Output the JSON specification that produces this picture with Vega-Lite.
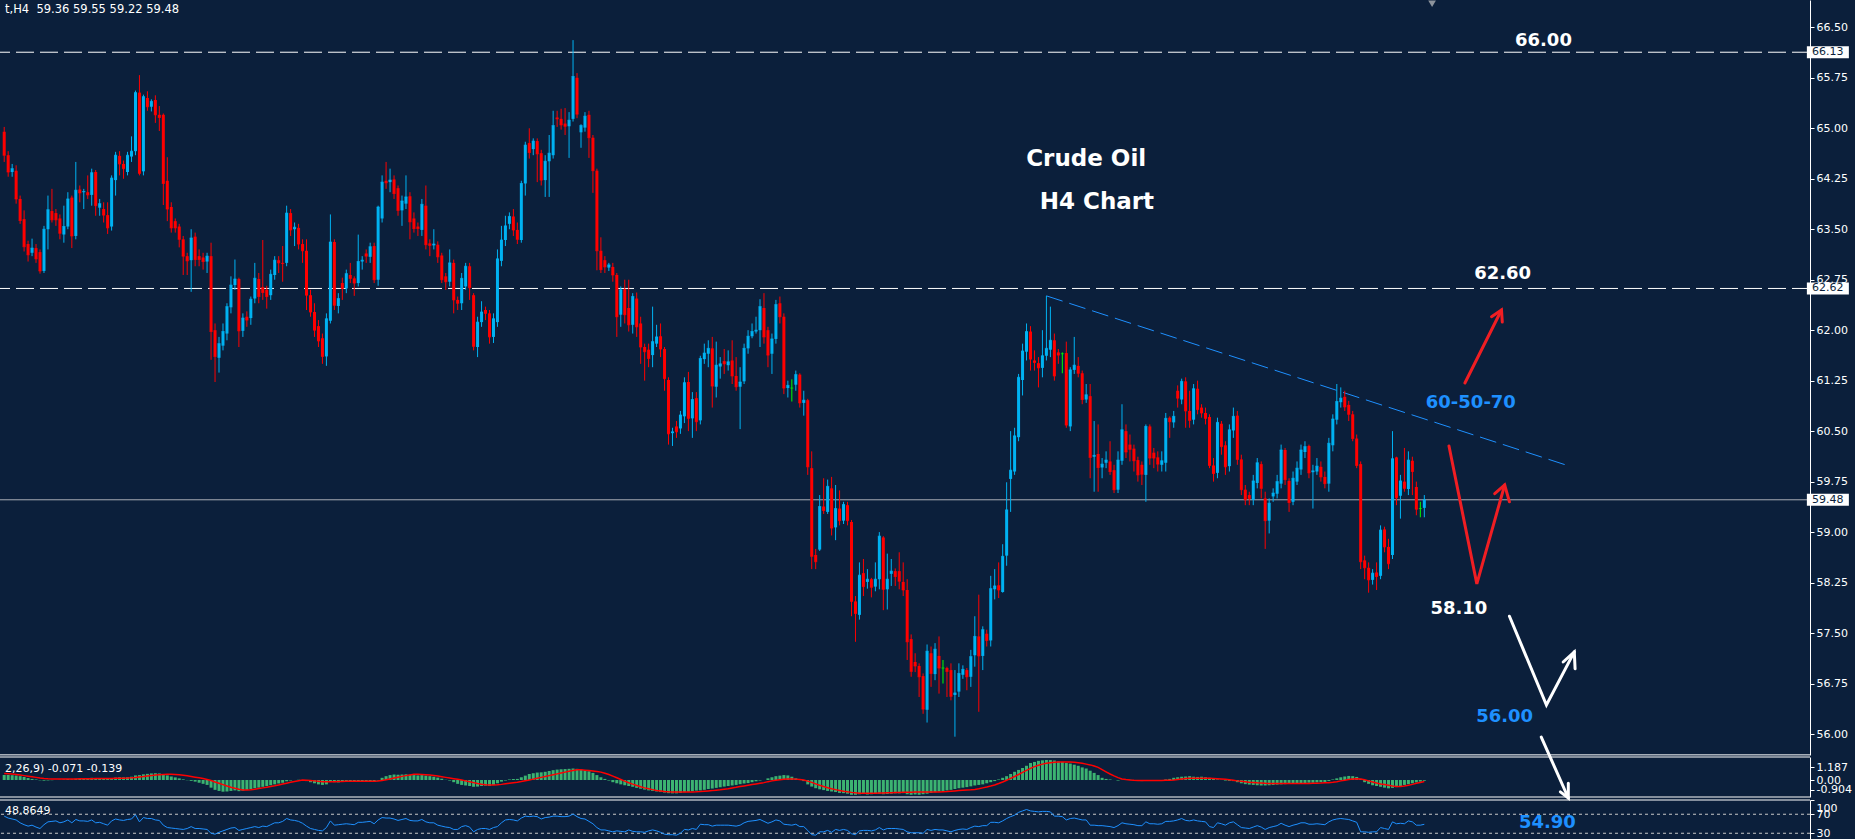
{
"$schema":"https://vega.github.io/schema/vega-lite/v6.json",
"width":1810,"height":839,
"autosize":{"type":"none"},
"padding":{"left":0,"top":0,"right":45,"bottom":0},
"background":"#0b1f3b",
"config":{"view":{"stroke":null},"axis":{"domainColor":"#ffffff","tickColor":"#ffffff","labelColor":"#ffffff","labelFont":"DejaVu Sans","labelFontSize":11,"tickSize":4,"grid":false,"labelPadding":2,"labelOverlap":false,"labelFlush":false,"labelBound":false}},
"datasets":{
"k":[
{"i":0,"o":64.95,"h":65.02,"l":64.5,"c":64.6,"m":0.45,"s":0.6,"r":66},
{"i":1,"o":64.6,"h":64.66,"l":64.28,"c":64.35,"m":0.46,"s":0.58,"r":62},
{"i":2,"o":64.35,"h":64.47,"l":64.28,"c":64.4,"m":0.44,"s":0.55,"r":60},
{"i":3,"o":64.37,"h":64.45,"l":63.88,"c":63.95,"m":0.4,"s":0.5,"r":58},
{"i":4,"o":63.95,"h":64.0,"l":63.58,"c":63.63,"m":0.35,"s":0.45,"r":52},
{"i":5,"o":63.65,"h":63.78,"l":63.17,"c":63.24,"m":0.28,"s":0.4,"r":48},
{"i":6,"o":63.28,"h":63.33,"l":63.02,"c":63.12,"m":0.18,"s":0.35,"r":45},
{"i":7,"o":63.15,"h":63.36,"l":63.1,"c":63.22,"m":0.1,"s":0.3,"r":47},
{"i":8,"o":63.22,"h":63.28,"l":63.0,"c":63.06,"m":0.05,"s":0.24,"r":43},
{"i":9,"o":63.16,"h":63.2,"l":62.84,"c":62.88,"m":-0.03,"s":0.18,"r":40},
{"i":10,"o":62.88,"h":63.55,"l":62.85,"c":63.5,"m":-0.06,"s":0.14,"r":48},
{"i":11,"o":63.5,"h":64.0,"l":63.2,"c":63.79,"m":-0.04,"s":0.11,"r":54},
{"i":12,"o":63.77,"h":64.1,"l":63.6,"c":63.64,"m":-0.02,"s":0.1,"r":55},
{"i":13,"o":63.74,"h":63.8,"l":63.55,"c":63.64,"m":0.0,"s":0.09,"r":56},
{"i":14,"o":63.66,"h":63.72,"l":63.35,"c":63.44,"m":0.02,"s":0.09,"r":52},
{"i":15,"o":63.42,"h":63.85,"l":63.3,"c":63.54,"m":0.05,"s":0.09,"r":54},
{"i":16,"o":63.54,"h":64.05,"l":63.5,"c":63.95,"m":0.08,"s":0.1,"r":58},
{"i":17,"o":63.97,"h":64.0,"l":63.22,"c":63.4,"m":0.06,"s":0.1,"r":52},
{"i":18,"o":63.4,"h":64.5,"l":63.35,"c":64.08,"m":0.12,"s":0.1,"r":59},
{"i":19,"o":64.09,"h":64.15,"l":63.9,"c":64.04,"m":0.15,"s":0.11,"r":56},
{"i":20,"o":64.05,"h":64.1,"l":63.8,"c":64.06,"m":0.17,"s":0.11,"r":56},
{"i":21,"o":64.05,"h":64.3,"l":63.95,"c":64.01,"m":0.18,"s":0.12,"r":55},
{"i":22,"o":64.01,"h":64.4,"l":63.85,"c":64.34,"m":0.2,"s":0.12,"r":58},
{"i":23,"o":64.35,"h":64.38,"l":63.7,"c":63.85,"m":0.17,"s":0.13,"r":52},
{"i":24,"o":63.82,"h":63.95,"l":63.7,"c":63.88,"m":0.15,"s":0.13,"r":53},
{"i":25,"o":63.8,"h":63.9,"l":63.6,"c":63.71,"m":0.12,"s":0.14,"r":50},
{"i":26,"o":63.71,"h":63.9,"l":63.43,"c":63.52,"m":0.1,"s":0.14,"r":47},
{"i":27,"o":63.54,"h":64.3,"l":63.48,"c":64.26,"m":0.15,"s":0.14,"r":56},
{"i":28,"o":64.23,"h":64.65,"l":64.0,"c":64.6,"m":0.22,"s":0.15,"r":60},
{"i":29,"o":64.59,"h":64.66,"l":64.3,"c":64.47,"m":0.25,"s":0.16,"r":58},
{"i":30,"o":64.47,"h":64.52,"l":64.25,"c":64.4,"m":0.24,"s":0.17,"r":57},
{"i":31,"o":64.35,"h":64.65,"l":64.3,"c":64.6,"m":0.26,"s":0.18,"r":59},
{"i":32,"o":64.58,"h":64.88,"l":64.5,"c":64.66,"m":0.3,"s":0.2,"r":60},
{"i":33,"o":64.66,"h":65.56,"l":64.6,"c":65.53,"m":0.42,"s":0.23,"r":69},
{"i":34,"o":65.53,"h":65.79,"l":64.3,"c":64.33,"m":0.45,"s":0.27,"r":54},
{"i":35,"o":64.36,"h":65.5,"l":64.3,"c":65.47,"m":0.52,"s":0.31,"r":63},
{"i":36,"o":65.45,"h":65.55,"l":65.26,"c":65.32,"m":0.56,"s":0.36,"r":61},
{"i":37,"o":65.32,"h":65.43,"l":65.25,"c":65.4,"m":0.6,"s":0.4,"r":61},
{"i":38,"o":65.42,"h":65.49,"l":65.08,"c":65.2,"m":0.62,"s":0.45,"r":58},
{"i":39,"o":65.2,"h":65.33,"l":64.96,"c":65.16,"m":0.6,"s":0.49,"r":57},
{"i":40,"o":65.2,"h":65.22,"l":63.86,"c":64.18,"m":0.52,"s":0.51,"r":47},
{"i":41,"o":64.22,"h":64.57,"l":63.62,"c":63.8,"m":0.42,"s":0.52,"r":42},
{"i":42,"o":63.83,"h":63.9,"l":63.45,"c":63.52,"m":0.32,"s":0.52,"r":41},
{"i":43,"o":63.62,"h":63.66,"l":63.45,"c":63.52,"m":0.24,"s":0.5,"r":40},
{"i":44,"o":63.54,"h":63.58,"l":63.23,"c":63.35,"m":0.15,"s":0.47,"r":39},
{"i":45,"o":63.35,"h":63.4,"l":62.82,"c":63.1,"m":0.06,"s":0.43,"r":38},
{"i":46,"o":63.1,"h":63.15,"l":62.82,"c":63.03,"m":-0.02,"s":0.38,"r":40},
{"i":47,"o":63.04,"h":63.5,"l":62.57,"c":63.37,"m":-0.08,"s":0.32,"r":44},
{"i":48,"o":63.39,"h":63.45,"l":62.95,"c":63.05,"m":-0.15,"s":0.26,"r":40},
{"i":49,"o":63.1,"h":63.2,"l":62.95,"c":63.05,"m":-0.25,"s":0.2,"r":40},
{"i":50,"o":63.08,"h":63.15,"l":62.9,"c":63.02,"m":-0.35,"s":0.13,"r":39},
{"i":51,"o":63.02,"h":63.15,"l":62.85,"c":63.1,"m":-0.45,"s":0.05,"r":38},
{"i":52,"o":63.1,"h":63.3,"l":61.56,"c":61.98,"m":-0.7,"s":-0.05,"r":30},
{"i":53,"o":62.0,"h":62.1,"l":61.23,"c":61.61,"m":-0.9,"s":-0.18,"r":28},
{"i":54,"o":61.59,"h":61.9,"l":61.37,"c":61.8,"m":-1.0,"s":-0.3,"r":32},
{"i":55,"o":61.77,"h":62.1,"l":61.7,"c":61.98,"m":-1.07,"s":-0.42,"r":35},
{"i":56,"o":61.95,"h":62.4,"l":61.85,"c":62.35,"m":-1.05,"s":-0.55,"r":38},
{"i":57,"o":62.34,"h":62.8,"l":62.25,"c":62.67,"m":-1.0,"s":-0.66,"r":41},
{"i":58,"o":62.67,"h":63.05,"l":62.6,"c":62.76,"m":-0.95,"s":-0.76,"r":42},
{"i":59,"o":62.76,"h":62.78,"l":61.75,"c":61.99,"m":-1.02,"s":-0.85,"r":36},
{"i":60,"o":61.99,"h":62.25,"l":61.9,"c":62.18,"m":-0.98,"s":-0.91,"r":38},
{"i":61,"o":62.2,"h":62.28,"l":62.05,"c":62.15,"m":-0.9,"s":-0.91,"r":40},
{"i":62,"o":62.18,"h":62.5,"l":62.08,"c":62.46,"m":-0.82,"s":-0.88,"r":42},
{"i":63,"o":62.47,"h":63.0,"l":62.4,"c":62.77,"m":-0.75,"s":-0.84,"r":44},
{"i":64,"o":62.76,"h":62.85,"l":62.4,"c":62.5,"m":-0.7,"s":-0.78,"r":42},
{"i":65,"o":62.64,"h":63.34,"l":62.45,"c":62.56,"m":-0.62,"s":-0.72,"r":45},
{"i":66,"o":62.6,"h":62.66,"l":62.32,"c":62.5,"m":-0.55,"s":-0.66,"r":44},
{"i":67,"o":62.52,"h":62.9,"l":62.45,"c":62.83,"m":-0.48,"s":-0.6,"r":48},
{"i":68,"o":62.82,"h":63.1,"l":62.75,"c":63.04,"m":-0.4,"s":-0.53,"r":52},
{"i":69,"o":63.04,"h":63.1,"l":62.85,"c":63.0,"m":-0.32,"s":-0.45,"r":52},
{"i":70,"o":63.0,"h":63.25,"l":62.72,"c":62.99,"m":-0.25,"s":-0.37,"r":55},
{"i":71,"o":63.0,"h":63.85,"l":62.95,"c":63.74,"m":-0.12,"s":-0.29,"r":61},
{"i":72,"o":63.74,"h":63.8,"l":63.4,"c":63.49,"m":-0.05,"s":-0.21,"r":58},
{"i":73,"o":63.5,"h":63.6,"l":63.25,"c":63.53,"m":0.0,"s":-0.14,"r":57},
{"i":74,"o":63.52,"h":63.58,"l":63.2,"c":63.28,"m":0.02,"s":-0.07,"r":55},
{"i":75,"o":63.28,"h":63.35,"l":63.0,"c":63.18,"m":-0.02,"s":0.0,"r":51},
{"i":76,"o":63.18,"h":63.35,"l":62.3,"c":62.52,"m":-0.1,"s":-0.02,"r":45},
{"i":77,"o":62.52,"h":62.6,"l":62.2,"c":62.27,"m":-0.2,"s":-0.05,"r":40},
{"i":78,"o":62.27,"h":62.4,"l":61.9,"c":62.0,"m":-0.3,"s":-0.08,"r":38},
{"i":79,"o":62.06,"h":62.15,"l":61.75,"c":61.84,"m":-0.4,"s":-0.12,"r":36},
{"i":80,"o":61.88,"h":61.95,"l":61.5,"c":61.61,"m":-0.45,"s":-0.15,"r":35},
{"i":81,"o":61.61,"h":62.25,"l":61.47,"c":62.17,"m":-0.4,"s":-0.16,"r":42},
{"i":82,"o":62.14,"h":63.72,"l":62.1,"c":63.31,"m":-0.15,"s":-0.16,"r":56},
{"i":83,"o":63.31,"h":63.35,"l":62.3,"c":62.37,"m":-0.2,"s":-0.15,"r":47},
{"i":84,"o":62.36,"h":62.55,"l":62.25,"c":62.47,"m":-0.22,"s":-0.14,"r":48},
{"i":85,"o":62.7,"h":62.78,"l":62.45,"c":62.62,"m":-0.18,"s":-0.13,"r":49},
{"i":86,"o":62.62,"h":62.9,"l":62.55,"c":62.84,"m":-0.15,"s":-0.12,"r":50},
{"i":87,"o":62.82,"h":63.0,"l":62.7,"c":62.77,"m":-0.16,"s":-0.12,"r":49},
{"i":88,"o":62.77,"h":62.8,"l":62.51,"c":62.7,"m":-0.18,"s":-0.12,"r":48},
{"i":89,"o":62.7,"h":63.42,"l":62.65,"c":63.02,"m":-0.14,"s":-0.12,"r":53},
{"i":90,"o":63.02,"h":63.1,"l":62.9,"c":63.04,"m":-0.12,"s":-0.12,"r":53},
{"i":91,"o":63.14,"h":63.2,"l":63.0,"c":63.1,"m":-0.15,"s":-0.12,"r":54},
{"i":92,"o":63.09,"h":63.3,"l":63.0,"c":63.24,"m":-0.14,"s":-0.12,"r":55},
{"i":93,"o":63.25,"h":63.3,"l":62.7,"c":62.75,"m":-0.18,"s":-0.12,"r":50},
{"i":94,"o":62.75,"h":63.85,"l":62.66,"c":63.83,"m":-0.05,"s":-0.1,"r":58},
{"i":95,"o":63.66,"h":64.3,"l":63.6,"c":64.2,"m":0.2,"s":-0.05,"r":63},
{"i":96,"o":64.22,"h":64.5,"l":64.1,"c":64.19,"m":0.35,"s":0.02,"r":62},
{"i":97,"o":64.2,"h":64.4,"l":64.05,"c":64.23,"m":0.45,"s":0.1,"r":62},
{"i":98,"o":64.24,"h":64.3,"l":63.95,"c":64.03,"m":0.5,"s":0.18,"r":60},
{"i":99,"o":64.11,"h":64.15,"l":63.7,"c":63.78,"m":0.48,"s":0.26,"r":57},
{"i":100,"o":63.78,"h":64.0,"l":63.55,"c":63.92,"m":0.5,"s":0.33,"r":59},
{"i":101,"o":63.88,"h":64.3,"l":63.8,"c":63.98,"m":0.52,"s":0.4,"r":61},
{"i":102,"o":63.99,"h":64.05,"l":63.35,"c":63.61,"m":0.48,"s":0.46,"r":57},
{"i":103,"o":63.66,"h":63.75,"l":63.45,"c":63.51,"m":0.45,"s":0.52,"r":56},
{"i":104,"o":63.54,"h":63.6,"l":63.4,"c":63.51,"m":0.42,"s":0.52,"r":56},
{"i":105,"o":63.49,"h":63.95,"l":63.4,"c":63.87,"m":0.45,"s":0.51,"r":59},
{"i":106,"o":63.85,"h":64.15,"l":63.2,"c":63.27,"m":0.4,"s":0.48,"r":54},
{"i":107,"o":63.29,"h":63.35,"l":63.1,"c":63.26,"m":0.35,"s":0.45,"r":52},
{"i":108,"o":63.26,"h":63.5,"l":63.2,"c":63.28,"m":0.3,"s":0.41,"r":52},
{"i":109,"o":63.27,"h":63.32,"l":63.0,"c":63.09,"m":0.22,"s":0.36,"r":47},
{"i":110,"o":63.11,"h":63.15,"l":62.7,"c":62.75,"m":0.12,"s":0.3,"r":45},
{"i":111,"o":62.8,"h":62.85,"l":62.6,"c":62.72,"m":0.02,"s":0.24,"r":43},
{"i":112,"o":62.72,"h":63.2,"l":62.65,"c":63.0,"m":-0.05,"s":0.18,"r":42},
{"i":113,"o":63.0,"h":63.05,"l":62.25,"c":62.45,"m":-0.2,"s":0.12,"r":38},
{"i":114,"o":62.45,"h":62.5,"l":62.3,"c":62.4,"m":-0.35,"s":0.06,"r":38},
{"i":115,"o":62.4,"h":62.85,"l":62.3,"c":62.77,"m":-0.45,"s":0.0,"r":44},
{"i":116,"o":62.65,"h":63.0,"l":62.6,"c":62.95,"m":-0.5,"s":-0.08,"r":46},
{"i":117,"o":62.95,"h":63.0,"l":62.45,"c":62.63,"m":-0.55,"s":-0.16,"r":43},
{"i":118,"o":62.52,"h":62.55,"l":61.7,"c":61.76,"m":-0.62,"s":-0.24,"r":33},
{"i":119,"o":61.75,"h":62.2,"l":61.6,"c":62.12,"m":-0.6,"s":-0.32,"r":38},
{"i":120,"o":62.12,"h":62.43,"l":62.05,"c":62.27,"m":-0.55,"s":-0.38,"r":40},
{"i":121,"o":62.3,"h":62.35,"l":62.15,"c":62.25,"m":-0.52,"s":-0.43,"r":40},
{"i":122,"o":62.25,"h":62.3,"l":61.8,"c":61.9,"m":-0.55,"s":-0.46,"r":38},
{"i":123,"o":61.9,"h":62.25,"l":61.81,"c":62.17,"m":-0.45,"s":-0.46,"r":42},
{"i":124,"o":62.12,"h":63.2,"l":62.05,"c":63.06,"m":-0.3,"s":-0.44,"r":44},
{"i":125,"o":63.03,"h":63.55,"l":62.95,"c":63.34,"m":-0.15,"s":-0.4,"r":52},
{"i":126,"o":63.34,"h":63.7,"l":63.25,"c":63.55,"m":-0.05,"s":-0.35,"r":58},
{"i":127,"o":63.58,"h":63.75,"l":63.5,"c":63.69,"m":0.05,"s":-0.3,"r":59},
{"i":128,"o":63.69,"h":63.8,"l":63.4,"c":63.49,"m":0.08,"s":-0.25,"r":58},
{"i":129,"o":63.49,"h":63.6,"l":63.28,"c":63.35,"m":0.1,"s":-0.2,"r":56},
{"i":130,"o":63.34,"h":64.22,"l":63.3,"c":64.18,"m":0.25,"s":-0.14,"r":62},
{"i":131,"o":64.18,"h":64.8,"l":64.0,"c":64.75,"m":0.4,"s":-0.07,"r":66},
{"i":132,"o":64.78,"h":65.0,"l":64.55,"c":64.64,"m":0.55,"s":0.0,"r":65},
{"i":133,"o":64.69,"h":64.85,"l":64.6,"c":64.81,"m":0.62,"s":0.08,"r":66},
{"i":134,"o":64.81,"h":64.85,"l":64.2,"c":64.62,"m":0.68,"s":0.16,"r":65},
{"i":135,"o":64.63,"h":64.68,"l":64.15,"c":64.23,"m":0.7,"s":0.24,"r":60},
{"i":136,"o":64.23,"h":64.6,"l":63.98,"c":64.51,"m":0.75,"s":0.32,"r":63},
{"i":137,"o":64.51,"h":64.9,"l":63.98,"c":64.63,"m":0.82,"s":0.4,"r":64},
{"i":138,"o":64.6,"h":65.26,"l":64.55,"c":65.04,"m":0.9,"s":0.48,"r":66},
{"i":139,"o":65.16,"h":65.26,"l":65.02,"c":65.14,"m":0.95,"s":0.56,"r":66},
{"i":140,"o":65.14,"h":65.29,"l":64.98,"c":65.05,"m":0.98,"s":0.64,"r":65},
{"i":141,"o":65.07,"h":65.3,"l":64.9,"c":65.03,"m":1.0,"s":0.72,"r":65},
{"i":142,"o":65.03,"h":65.24,"l":64.56,"c":65.12,"m":1.02,"s":0.8,"r":66},
{"i":143,"o":65.14,"h":66.31,"l":65.1,"c":65.77,"m":1.05,"s":0.87,"r":70.5},
{"i":144,"o":65.75,"h":65.82,"l":65.15,"c":65.21,"m":1.02,"s":0.93,"r":65},
{"i":145,"o":64.94,"h":65.06,"l":64.71,"c":65.04,"m":0.95,"s":0.93,"r":61},
{"i":146,"o":65.01,"h":65.24,"l":64.95,"c":65.18,"m":0.88,"s":0.9,"r":60},
{"i":147,"o":65.2,"h":65.26,"l":64.56,"c":64.86,"m":0.8,"s":0.86,"r":55},
{"i":148,"o":64.86,"h":64.9,"l":64.04,"c":64.37,"m":0.65,"s":0.82,"r":50},
{"i":149,"o":64.37,"h":64.4,"l":62.89,"c":63.18,"m":0.45,"s":0.77,"r":42},
{"i":150,"o":63.18,"h":63.38,"l":62.85,"c":62.9,"m":0.25,"s":0.72,"r":37},
{"i":151,"o":63.04,"h":63.1,"l":62.85,"c":62.94,"m":0.1,"s":0.62,"r":37},
{"i":152,"o":62.93,"h":63.0,"l":62.88,"c":62.97,"m":-0.05,"s":0.5,"r":35},
{"i":153,"o":62.94,"h":63.0,"l":62.72,"c":62.82,"m":-0.2,"s":0.35,"r":33},
{"i":154,"o":62.82,"h":62.85,"l":61.9,"c":62.2,"m":-0.3,"s":0.2,"r":35},
{"i":155,"o":62.23,"h":62.65,"l":62.05,"c":62.6,"m":-0.4,"s":0.05,"r":34},
{"i":156,"o":62.61,"h":62.75,"l":62.1,"c":62.23,"m":-0.48,"s":-0.1,"r":33},
{"i":157,"o":62.33,"h":62.75,"l":61.98,"c":62.08,"m":-0.55,"s":-0.25,"r":37},
{"i":158,"o":62.08,"h":62.55,"l":61.95,"c":62.5,"m":-0.62,"s":-0.38,"r":34},
{"i":159,"o":62.47,"h":62.56,"l":61.9,"c":62.05,"m":-0.72,"s":-0.5,"r":33},
{"i":160,"o":62.1,"h":62.2,"l":61.5,"c":61.75,"m":-0.8,"s":-0.62,"r":33},
{"i":161,"o":61.75,"h":61.8,"l":61.25,"c":61.68,"m":-0.88,"s":-0.72,"r":32},
{"i":162,"o":61.71,"h":61.8,"l":61.45,"c":61.58,"m":-0.95,"s":-0.8,"r":35},
{"i":163,"o":61.63,"h":62.35,"l":61.45,"c":61.83,"m":-1.0,"s":-0.88,"r":37},
{"i":164,"o":61.8,"h":62.08,"l":61.75,"c":61.9,"m":-1.05,"s":-0.95,"r":35},
{"i":165,"o":61.91,"h":62.1,"l":61.6,"c":61.72,"m":-1.1,"s":-1.0,"r":32},
{"i":166,"o":61.72,"h":61.75,"l":61.1,"c":61.28,"m":-1.15,"s":-1.05,"r":28},
{"i":167,"o":61.26,"h":61.3,"l":60.3,"c":60.46,"m":-1.2,"s":-1.08,"r":27},
{"i":168,"o":60.47,"h":60.55,"l":60.28,"c":60.49,"m":-1.22,"s":-1.1,"r":27},
{"i":169,"o":60.57,"h":60.65,"l":60.4,"c":60.49,"m":-1.22,"s":-1.1,"r":26},
{"i":170,"o":60.54,"h":60.8,"l":60.46,"c":60.74,"m":-1.18,"s":-1.1,"r":30},
{"i":171,"o":60.72,"h":61.3,"l":60.62,"c":61.22,"m":-1.12,"s":-1.1,"r":38},
{"i":172,"o":61.23,"h":61.38,"l":60.5,"c":60.69,"m":-1.08,"s":-1.1,"r":37},
{"i":173,"o":60.69,"h":61.08,"l":60.4,"c":60.97,"m":-1.02,"s":-1.09,"r":40},
{"i":174,"o":60.99,"h":61.08,"l":60.5,"c":60.64,"m":-0.97,"s":-1.08,"r":38},
{"i":175,"o":60.66,"h":61.62,"l":60.6,"c":61.58,"m":-0.95,"s":-1.06,"r":49},
{"i":176,"o":61.57,"h":61.8,"l":61.5,"c":61.66,"m":-0.9,"s":-1.03,"r":48},
{"i":177,"o":61.65,"h":61.85,"l":61.45,"c":61.73,"m":-0.82,"s":-1.0,"r":48},
{"i":178,"o":61.73,"h":61.9,"l":60.85,"c":61.17,"m":-0.78,"s":-0.97,"r":45},
{"i":179,"o":61.16,"h":61.83,"l":61.0,"c":61.48,"m":-0.72,"s":-0.93,"r":47},
{"i":180,"o":61.46,"h":61.6,"l":61.28,"c":61.5,"m":-0.66,"s":-0.89,"r":47},
{"i":181,"o":61.54,"h":61.72,"l":61.35,"c":61.5,"m":-0.6,"s":-0.84,"r":47},
{"i":182,"o":61.48,"h":61.7,"l":61.4,"c":61.53,"m":-0.55,"s":-0.79,"r":47},
{"i":183,"o":61.55,"h":61.85,"l":61.2,"c":61.32,"m":-0.5,"s":-0.73,"r":46},
{"i":184,"o":61.32,"h":61.6,"l":61.1,"c":61.16,"m":-0.45,"s":-0.67,"r":45},
{"i":185,"o":61.16,"h":61.45,"l":60.53,"c":61.23,"m":-0.38,"s":-0.6,"r":47},
{"i":186,"o":61.24,"h":61.8,"l":61.2,"c":61.73,"m":-0.32,"s":-0.54,"r":52},
{"i":187,"o":61.73,"h":62.0,"l":61.65,"c":61.91,"m":-0.28,"s":-0.48,"r":55},
{"i":188,"o":61.91,"h":62.1,"l":61.88,"c":61.98,"m":-0.2,"s":-0.42,"r":56},
{"i":189,"o":61.98,"h":62.2,"l":61.95,"c":62.0,"m":-0.12,"s":-0.36,"r":57},
{"i":190,"o":62.0,"h":62.46,"l":61.75,"c":62.35,"m":-0.05,"s":-0.3,"r":59},
{"i":191,"o":62.33,"h":62.55,"l":61.8,"c":61.9,"m":0.0,"s":-0.24,"r":55},
{"i":192,"o":62.0,"h":62.05,"l":61.45,"c":61.63,"m":0.15,"s":-0.15,"r":51},
{"i":193,"o":61.65,"h":61.95,"l":61.35,"c":61.87,"m":0.25,"s":-0.08,"r":54},
{"i":194,"o":61.87,"h":62.45,"l":61.8,"c":62.38,"m":0.35,"s":-0.03,"r":58},
{"i":195,"o":62.4,"h":62.5,"l":62.1,"c":62.2,"m":0.4,"s":0.02,"r":56},
{"i":196,"o":62.2,"h":62.25,"l":61.05,"c":61.14,"m":0.45,"s":0.07,"r":49},
{"i":197,"o":61.14,"h":61.25,"l":61.0,"c":61.18,"m":0.42,"s":0.1,"r":48},
{"i":198,"o":61.14,"h":61.27,"l":60.94,"c":61.14,"m":0.3,"s":0.1,"r":47},
{"i":199,"o":61.19,"h":61.4,"l":61.1,"c":61.34,"m":0.15,"s":0.08,"r":49},
{"i":200,"o":61.34,"h":61.36,"l":60.85,"c":60.92,"m":0.05,"s":0.05,"r":44},
{"i":201,"o":60.92,"h":61.1,"l":60.73,"c":60.96,"m":-0.1,"s":0.0,"r":44},
{"i":202,"o":60.96,"h":60.98,"l":59.85,"c":59.97,"m":-0.4,"s":-0.1,"r":36},
{"i":203,"o":59.95,"h":60.2,"l":58.45,"c":58.64,"m":-0.6,"s":-0.22,"r":27},
{"i":204,"o":58.66,"h":58.75,"l":58.45,"c":58.56,"m":-0.75,"s":-0.35,"r":26},
{"i":205,"o":58.74,"h":59.55,"l":58.72,"c":59.38,"m":-0.85,"s":-0.48,"r":33},
{"i":206,"o":59.38,"h":59.8,"l":59.27,"c":59.32,"m":-0.92,"s":-0.6,"r":33},
{"i":207,"o":59.3,"h":59.78,"l":59.27,"c":59.68,"m":-1.0,"s":-0.7,"r":36},
{"i":208,"o":59.65,"h":59.82,"l":58.95,"c":59.06,"m":-1.05,"s":-0.8,"r":32},
{"i":209,"o":59.07,"h":59.7,"l":58.88,"c":59.35,"m":-1.1,"s":-0.88,"r":38},
{"i":210,"o":59.35,"h":59.62,"l":59.1,"c":59.17,"m":-1.18,"s":-0.95,"r":36},
{"i":211,"o":59.17,"h":59.45,"l":59.12,"c":59.41,"m":-1.2,"s":-1.02,"r":38},
{"i":212,"o":59.4,"h":59.45,"l":59.1,"c":59.17,"m":-1.25,"s":-1.08,"r":36},
{"i":213,"o":59.15,"h":59.18,"l":57.75,"c":57.97,"m":-1.35,"s":-1.13,"r":29},
{"i":214,"o":57.97,"h":58.05,"l":57.37,"c":57.79,"m":-1.35,"s":-1.17,"r":27},
{"i":215,"o":57.77,"h":58.55,"l":57.7,"c":58.36,"m":-1.3,"s":-1.2,"r":35},
{"i":216,"o":58.39,"h":58.6,"l":58.05,"c":58.19,"m":-1.28,"s":-1.2,"r":36},
{"i":217,"o":58.26,"h":58.45,"l":58.16,"c":58.3,"m":-1.32,"s":-1.2,"r":36},
{"i":218,"o":58.3,"h":58.32,"l":58.03,"c":58.18,"m":-1.3,"s":-1.2,"r":35},
{"i":219,"o":58.19,"h":58.55,"l":58.12,"c":58.3,"m":-1.28,"s":-1.2,"r":37},
{"i":220,"o":58.3,"h":59.0,"l":58.15,"c":58.94,"m":-1.25,"s":-1.19,"r":42},
{"i":221,"o":58.92,"h":58.94,"l":57.84,"c":58.15,"m":-1.3,"s":-1.18,"r":37},
{"i":222,"o":58.15,"h":58.68,"l":57.85,"c":58.3,"m":-1.28,"s":-1.17,"r":40},
{"i":223,"o":58.38,"h":58.6,"l":58.2,"c":58.42,"m":-1.25,"s":-1.16,"r":40},
{"i":224,"o":58.42,"h":58.46,"l":58.2,"c":58.34,"m":-1.22,"s":-1.15,"r":40},
{"i":225,"o":58.42,"h":58.7,"l":58.15,"c":58.27,"m":-1.22,"s":-1.14,"r":39},
{"i":226,"o":58.26,"h":58.55,"l":58.05,"c":58.14,"m":-1.2,"s":-1.13,"r":38},
{"i":227,"o":58.14,"h":58.3,"l":57.1,"c":57.37,"m":-1.3,"s":-1.12,"r":33},
{"i":228,"o":57.41,"h":57.48,"l":56.85,"c":56.93,"m":-1.35,"s":-1.11,"r":31},
{"i":229,"o":57.07,"h":57.2,"l":56.92,"c":57.01,"m":-1.32,"s":-1.1,"r":31},
{"i":230,"o":57.01,"h":57.05,"l":56.55,"c":56.85,"m":-1.35,"s":-1.1,"r":31},
{"i":231,"o":56.86,"h":56.9,"l":56.3,"c":56.37,"m":-1.3,"s":-1.1,"r":30},
{"i":232,"o":56.36,"h":57.33,"l":56.17,"c":57.23,"m":-1.25,"s":-1.1,"r":38},
{"i":233,"o":57.2,"h":57.3,"l":56.7,"c":56.9,"m":-1.18,"s":-1.1,"r":36},
{"i":234,"o":56.89,"h":57.35,"l":56.8,"c":57.26,"m":-1.12,"s":-1.1,"r":38},
{"i":235,"o":57.16,"h":57.45,"l":56.6,"c":56.98,"m":-1.05,"s":-1.1,"r":37},
{"i":236,"o":56.98,"h":57.1,"l":56.75,"c":56.98,"m":-1.0,"s":-1.08,"r":37},
{"i":237,"o":56.98,"h":57.0,"l":56.55,"c":56.93,"m":-0.95,"s":-1.06,"r":35},
{"i":238,"o":56.95,"h":57.05,"l":56.5,"c":56.56,"m":-0.9,"s":-1.03,"r":33},
{"i":239,"o":56.58,"h":56.95,"l":55.96,"c":56.61,"m":-0.82,"s":-1.0,"r":36},
{"i":240,"o":56.63,"h":57.05,"l":56.55,"c":56.9,"m":-0.75,"s":-0.97,"r":38},
{"i":241,"o":56.88,"h":57.02,"l":56.82,"c":56.96,"m":-0.7,"s":-0.94,"r":39},
{"i":242,"o":56.95,"h":56.98,"l":56.65,"c":56.85,"m":-0.65,"s":-0.91,"r":38},
{"i":243,"o":56.85,"h":57.25,"l":56.7,"c":57.15,"m":-0.58,"s":-0.89,"r":42},
{"i":244,"o":57.17,"h":57.75,"l":57.0,"c":57.45,"m":-0.5,"s":-0.86,"r":45},
{"i":245,"o":57.45,"h":58.07,"l":56.33,"c":57.16,"m":-0.45,"s":-0.8,"r":44},
{"i":246,"o":57.16,"h":57.6,"l":56.95,"c":57.55,"m":-0.4,"s":-0.72,"r":46},
{"i":247,"o":57.49,"h":57.55,"l":57.3,"c":57.39,"m":-0.3,"s":-0.64,"r":46},
{"i":248,"o":57.39,"h":58.35,"l":57.3,"c":58.16,"m":-0.2,"s":-0.55,"r":53},
{"i":249,"o":58.15,"h":58.45,"l":58.0,"c":58.2,"m":-0.1,"s":-0.45,"r":53},
{"i":250,"o":58.21,"h":58.55,"l":58.02,"c":58.14,"m":0.05,"s":-0.32,"r":52},
{"i":251,"o":58.11,"h":58.82,"l":58.1,"c":58.64,"m":0.2,"s":-0.18,"r":56},
{"i":252,"o":58.65,"h":59.74,"l":58.5,"c":59.33,"m":0.35,"s":-0.02,"r":61},
{"i":253,"o":59.79,"h":60.5,"l":59.3,"c":59.92,"m":0.55,"s":0.15,"r":65},
{"i":254,"o":59.9,"h":60.55,"l":59.85,"c":60.43,"m":0.75,"s":0.32,"r":68},
{"i":255,"o":60.41,"h":61.35,"l":60.35,"c":61.3,"m":0.92,"s":0.5,"r":74},
{"i":256,"o":61.26,"h":61.8,"l":61.03,"c":61.69,"m":1.1,"s":0.7,"r":77},
{"i":257,"o":61.68,"h":62.1,"l":61.55,"c":61.98,"m":1.3,"s":0.88,"r":80},
{"i":258,"o":61.98,"h":62.06,"l":61.4,"c":61.57,"m":1.55,"s":1.06,"r":77},
{"i":259,"o":61.55,"h":61.7,"l":61.4,"c":61.52,"m":1.65,"s":1.22,"r":76},
{"i":260,"o":61.51,"h":61.6,"l":61.15,"c":61.44,"m":1.75,"s":1.35,"r":75},
{"i":261,"o":61.44,"h":62.0,"l":61.3,"c":61.62,"m":1.8,"s":1.45,"r":76},
{"i":262,"o":61.62,"h":62.51,"l":61.55,"c":61.73,"m":1.83,"s":1.52,"r":76},
{"i":263,"o":61.71,"h":62.35,"l":61.6,"c":61.85,"m":1.82,"s":1.58,"r":75},
{"i":264,"o":61.85,"h":61.95,"l":61.25,"c":61.32,"m":1.78,"s":1.62,"r":66},
{"i":265,"o":61.67,"h":61.72,"l":61.5,"c":61.63,"m":1.7,"s":1.65,"r":66},
{"i":266,"o":61.65,"h":61.67,"l":61.36,"c":61.65,"m":1.65,"s":1.65,"r":65},
{"i":267,"o":61.66,"h":61.83,"l":60.55,"c":60.59,"m":1.55,"s":1.65,"r":58},
{"i":268,"o":60.57,"h":61.45,"l":60.5,"c":61.41,"m":1.5,"s":1.64,"r":61},
{"i":269,"o":61.41,"h":61.9,"l":61.35,"c":61.48,"m":1.4,"s":1.62,"r":62},
{"i":270,"o":61.47,"h":61.6,"l":61.3,"c":61.36,"m":1.3,"s":1.58,"r":60},
{"i":271,"o":61.36,"h":61.4,"l":60.9,"c":60.97,"m":1.15,"s":1.52,"r":58},
{"i":272,"o":60.97,"h":61.2,"l":60.92,"c":61.04,"m":1.05,"s":1.45,"r":58},
{"i":273,"o":61.02,"h":61.2,"l":59.8,"c":60.11,"m":0.85,"s":1.38,"r":47},
{"i":274,"o":60.12,"h":60.65,"l":59.6,"c":60.14,"m":0.65,"s":1.28,"r":47},
{"i":275,"o":60.16,"h":60.6,"l":59.6,"c":59.96,"m":0.45,"s":1.15,"r":46},
{"i":276,"o":59.96,"h":60.1,"l":59.8,"c":60.01,"m":0.2,"s":0.95,"r":46},
{"i":277,"o":60.03,"h":60.2,"l":59.95,"c":60.07,"m":0.1,"s":0.75,"r":45},
{"i":278,"o":60.05,"h":60.35,"l":59.85,"c":59.9,"m":0.05,"s":0.55,"r":44},
{"i":279,"o":59.92,"h":60.0,"l":59.58,"c":59.63,"m":0.0,"s":0.38,"r":42},
{"i":280,"o":59.63,"h":60.2,"l":59.58,"c":60.07,"m":-0.05,"s":0.22,"r":46},
{"i":281,"o":60.06,"h":60.9,"l":60.0,"c":60.52,"m":0.02,"s":0.1,"r":52},
{"i":282,"o":60.5,"h":60.6,"l":60.1,"c":60.19,"m":0.05,"s":0.04,"r":50},
{"i":283,"o":60.3,"h":60.45,"l":60.05,"c":60.23,"m":0.03,"s":0.0,"r":49},
{"i":284,"o":60.24,"h":60.3,"l":59.9,"c":60.06,"m":-0.02,"s":-0.03,"r":48},
{"i":285,"o":60.07,"h":60.12,"l":59.75,"c":59.85,"m":-0.08,"s":-0.05,"r":46},
{"i":286,"o":60.0,"h":60.05,"l":59.7,"c":59.86,"m":-0.1,"s":-0.05,"r":46},
{"i":287,"o":59.85,"h":60.6,"l":59.45,"c":60.57,"m":-0.05,"s":-0.05,"r":54},
{"i":288,"o":60.57,"h":60.6,"l":60.0,"c":60.1,"m":-0.06,"s":-0.05,"r":50},
{"i":289,"o":60.18,"h":60.25,"l":59.95,"c":60.1,"m":-0.08,"s":-0.05,"r":50},
{"i":290,"o":60.11,"h":60.2,"l":59.9,"c":60.01,"m":-0.05,"s":-0.05,"r":49},
{"i":291,"o":60.0,"h":60.2,"l":59.9,"c":60.06,"m":-0.02,"s":-0.04,"r":50},
{"i":292,"o":60.03,"h":60.77,"l":59.9,"c":60.69,"m":0.05,"s":-0.03,"r":55},
{"i":293,"o":60.7,"h":60.72,"l":60.4,"c":60.64,"m":0.1,"s":-0.02,"r":55},
{"i":294,"o":60.63,"h":60.8,"l":60.55,"c":60.72,"m":0.2,"s":0.0,"r":56},
{"i":295,"o":61.1,"h":61.18,"l":60.85,"c":60.99,"m":0.25,"s":0.05,"r":58},
{"i":296,"o":60.97,"h":61.28,"l":60.9,"c":61.24,"m":0.3,"s":0.1,"r":61},
{"i":297,"o":61.24,"h":61.3,"l":60.55,"c":60.8,"m":0.32,"s":0.13,"r":57},
{"i":298,"o":60.8,"h":61.1,"l":60.55,"c":60.66,"m":0.35,"s":0.15,"r":56},
{"i":299,"o":60.67,"h":61.2,"l":60.6,"c":61.13,"m":0.3,"s":0.15,"r":58},
{"i":300,"o":61.13,"h":61.25,"l":60.75,"c":60.82,"m":0.28,"s":0.15,"r":56},
{"i":301,"o":60.85,"h":60.9,"l":60.7,"c":60.77,"m":0.3,"s":0.15,"r":55},
{"i":302,"o":60.77,"h":60.85,"l":60.6,"c":60.69,"m":0.25,"s":0.15,"r":54},
{"i":303,"o":60.71,"h":60.75,"l":59.95,"c":59.99,"m":0.2,"s":0.15,"r":44},
{"i":304,"o":59.99,"h":60.1,"l":59.75,"c":59.87,"m":0.1,"s":0.14,"r":42},
{"i":305,"o":59.88,"h":60.7,"l":59.8,"c":60.63,"m":0.05,"s":0.12,"r":52},
{"i":306,"o":60.61,"h":60.65,"l":60.15,"c":60.27,"m":0.02,"s":0.1,"r":50},
{"i":307,"o":60.29,"h":60.35,"l":59.85,"c":59.97,"m":-0.05,"s":0.06,"r":47},
{"i":308,"o":59.98,"h":60.6,"l":59.9,"c":60.52,"m":-0.08,"s":0.02,"r":52},
{"i":309,"o":60.51,"h":60.85,"l":60.4,"c":60.72,"m":-0.1,"s":-0.03,"r":54},
{"i":310,"o":60.73,"h":60.8,"l":60.0,"c":60.08,"m":-0.2,"s":-0.08,"r":48},
{"i":311,"o":60.08,"h":60.15,"l":59.55,"c":59.63,"m":-0.3,"s":-0.12,"r":42},
{"i":312,"o":59.63,"h":59.7,"l":59.4,"c":59.48,"m":-0.38,"s":-0.16,"r":41},
{"i":313,"o":59.55,"h":59.6,"l":59.4,"c":59.5,"m":-0.42,"s":-0.2,"r":40},
{"i":314,"o":59.48,"h":59.85,"l":59.4,"c":59.76,"m":-0.45,"s":-0.23,"r":43},
{"i":315,"o":59.73,"h":60.1,"l":59.65,"c":60.03,"m":-0.48,"s":-0.26,"r":46},
{"i":316,"o":60.01,"h":60.05,"l":59.5,"c":59.65,"m":-0.5,"s":-0.28,"r":43},
{"i":317,"o":59.5,"h":59.6,"l":58.75,"c":59.17,"m":-0.5,"s":-0.3,"r":38},
{"i":318,"o":59.17,"h":59.5,"l":58.98,"c":59.43,"m":-0.48,"s":-0.31,"r":42},
{"i":319,"o":59.53,"h":59.65,"l":59.45,"c":59.58,"m":-0.45,"s":-0.32,"r":44},
{"i":320,"o":59.57,"h":59.85,"l":59.5,"c":59.75,"m":-0.42,"s":-0.33,"r":46},
{"i":321,"o":59.72,"h":60.3,"l":59.65,"c":60.22,"m":-0.4,"s":-0.33,"r":51},
{"i":322,"o":60.22,"h":60.25,"l":59.7,"c":59.78,"m":-0.38,"s":-0.33,"r":47},
{"i":323,"o":59.76,"h":59.8,"l":59.3,"c":59.44,"m":-0.35,"s":-0.33,"r":44},
{"i":324,"o":59.45,"h":59.9,"l":59.4,"c":59.8,"m":-0.35,"s":-0.33,"r":47},
{"i":325,"o":59.75,"h":60.05,"l":59.7,"c":59.95,"m":-0.32,"s":-0.33,"r":49},
{"i":326,"o":59.93,"h":60.3,"l":59.85,"c":60.22,"m":-0.3,"s":-0.33,"r":52},
{"i":327,"o":60.19,"h":60.35,"l":60.1,"c":60.27,"m":-0.28,"s":-0.32,"r":52},
{"i":328,"o":60.28,"h":60.3,"l":59.8,"c":59.88,"m":-0.25,"s":-0.31,"r":49},
{"i":329,"o":59.89,"h":60.0,"l":59.35,"c":59.91,"m":-0.25,"s":-0.3,"r":49},
{"i":330,"o":59.9,"h":60.1,"l":59.85,"c":59.98,"m":-0.22,"s":-0.29,"r":50},
{"i":331,"o":59.97,"h":60.05,"l":59.75,"c":59.82,"m":-0.2,"s":-0.28,"r":49},
{"i":332,"o":59.82,"h":59.9,"l":59.65,"c":59.72,"m":-0.18,"s":-0.26,"r":48},
{"i":333,"o":59.72,"h":60.4,"l":59.6,"c":60.32,"m":-0.1,"s":-0.24,"r":54},
{"i":334,"o":60.29,"h":60.75,"l":60.2,"c":60.68,"m":0.05,"s":-0.2,"r":58},
{"i":335,"o":60.67,"h":61.2,"l":60.6,"c":60.94,"m":0.15,"s":-0.15,"r":60},
{"i":336,"o":60.93,"h":61.15,"l":60.85,"c":60.99,"m":0.25,"s":-0.08,"r":61},
{"i":337,"o":61.01,"h":61.1,"l":60.8,"c":60.86,"m":0.32,"s":-0.02,"r":60},
{"i":338,"o":60.89,"h":60.95,"l":60.65,"c":60.75,"m":0.37,"s":0.05,"r":59},
{"i":339,"o":60.75,"h":60.8,"l":60.35,"c":60.39,"m":0.35,"s":0.1,"r":56},
{"i":340,"o":60.39,"h":60.45,"l":59.95,"c":59.99,"m":0.28,"s":0.12,"r":53},
{"i":341,"o":60.01,"h":60.05,"l":58.45,"c":58.56,"m":0.1,"s":0.1,"r":33},
{"i":342,"o":58.58,"h":58.65,"l":58.3,"c":58.47,"m":-0.2,"s":0.02,"r":33},
{"i":343,"o":58.47,"h":58.55,"l":58.1,"c":58.29,"m":-0.35,"s":-0.08,"r":32},
{"i":344,"o":58.29,"h":58.45,"l":58.22,"c":58.39,"m":-0.48,"s":-0.18,"r":33},
{"i":345,"o":58.4,"h":58.55,"l":58.14,"c":58.34,"m":-0.55,"s":-0.28,"r":33},
{"i":346,"o":58.35,"h":59.1,"l":58.3,"c":59.03,"m":-0.62,"s":-0.36,"r":42},
{"i":347,"o":59.04,"h":59.08,"l":58.7,"c":58.78,"m":-0.7,"s":-0.42,"r":40},
{"i":348,"o":58.78,"h":58.9,"l":58.45,"c":58.53,"m":-0.76,"s":-0.48,"r":38},
{"i":349,"o":58.66,"h":60.5,"l":58.6,"c":60.09,"m":-0.72,"s":-0.55,"r":54},
{"i":350,"o":60.11,"h":60.12,"l":59.4,"c":59.51,"m":-0.65,"s":-0.6,"r":50},
{"i":351,"o":59.54,"h":59.85,"l":59.2,"c":59.76,"m":-0.55,"s":-0.6,"r":51},
{"i":352,"o":59.75,"h":60.25,"l":59.6,"c":59.65,"m":-0.45,"s":-0.55,"r":50},
{"i":353,"o":59.64,"h":60.2,"l":59.55,"c":60.07,"m":-0.38,"s":-0.48,"r":56},
{"i":354,"o":60.06,"h":60.12,"l":59.55,"c":59.9,"m":-0.3,"s":-0.4,"r":54},
{"i":355,"o":59.67,"h":59.75,"l":59.25,"c":59.34,"m":-0.22,"s":-0.3,"r":47},
{"i":356,"o":59.35,"h":59.45,"l":59.22,"c":59.35,"m":-0.15,"s":-0.22,"r":47},
{"i":357,"o":59.36,"h":59.55,"l":59.22,"c":59.48,"m":-0.071,"s":-0.139,"r":48.86}
],
"lv":[{"p":66.13,"t":"d"},{"p":62.62,"t":"d"},{"p":59.48,"t":"c"}],
"sh":[
{"g":1,"o":1,"i":367.2,"p":61.215,"k":"r"},{"g":1,"o":2,"i":376.4,"p":62.3,"k":"r"},
{"g":2,"o":1,"i":373.9,"p":62.2,"k":"r"},{"g":2,"o":2,"i":376.4,"p":62.3,"k":"r"},{"g":2,"o":3,"i":376.6,"p":62.12,"k":"r"},
{"g":3,"o":1,"i":363.2,"p":60.28,"k":"r"},{"g":3,"o":2,"i":370.2,"p":58.23,"k":"r"},{"g":3,"o":3,"i":377.2,"p":59.7,"k":"r"},
{"g":4,"o":1,"i":374.7,"p":59.57,"k":"r"},{"g":4,"o":2,"i":377.2,"p":59.7,"k":"r"},{"g":4,"o":3,"i":378.4,"p":59.45,"k":"r"},
{"g":5,"o":1,"i":378.4,"p":57.75,"k":"w"},{"g":5,"o":2,"i":387.7,"p":56.43,"k":"w"},{"g":5,"o":3,"i":394.7,"p":57.22,"k":"w"},
{"g":6,"o":1,"i":391.9,"p":57.07,"k":"w"},{"g":6,"o":2,"i":394.7,"p":57.22,"k":"w"},{"g":6,"o":3,"i":394.9,"p":56.97,"k":"w"},
{"g":7,"o":1,"i":386.4,"p":55.955,"k":"w"},{"g":7,"o":2,"i":393.2,"p":55.049,"k":"w"},
{"g":8,"o":1,"i":393.2,"p":55.27,"k":"w"},{"g":8,"o":2,"i":393.2,"p":55.049,"k":"w"},{"g":8,"o":3,"i":391.2,"p":55.14,"k":"w"}
],
"tx":[
{"i":386.95,"p":66.3,"t":"66.00","k":"w"},
{"i":376.7,"p":62.835,"t":"62.60","k":"w"},
{"i":368.7,"p":60.92,"t":"60-50-70","k":"b"},
{"i":365.7,"p":57.86,"t":"58.10","k":"w"},
{"i":377.2,"p":56.25,"t":"56.00","k":"b"}
]
},
"layer":[
{"layer":[
 {"data":{"name":"lv"},"transform":[{"filter":"datum.t=='d'"}],"mark":{"type":"rule","color":"#ffffff","strokeWidth":1,"strokeDash":[18,6]},
  "encoding":{"y":{"field":"p","type":"quantitative","scale":{"domain":[55.688,66.906],"range":[755,0],"nice":false,"zero":false},
   "axis":{"orient":"right","title":null,"values":[56,56.75,57.5,58.25,59,59.75,60.5,61.25,62,62.75,63.5,64.25,65,65.75,66.5],"format":".2f"}}}},
 {"data":{"name":"lv"},"transform":[{"filter":"datum.t=='c'"}],"mark":{"type":"rule","color":"#a9adb5","strokeWidth":1},
  "encoding":{"y":{"field":"p","type":"quantitative"}}},
 {"data":{"values":[{"p":55.69}]},"mark":{"type":"rule","color":"#ffffff","strokeWidth":1},
  "encoding":{"y":{"field":"p","type":"quantitative"}}},
 {"data":{"values":[{"i":262,"p":62.51},{"i":392.45,"p":60.0}]},"mark":{"type":"line","color":"#1e90ff","strokeWidth":1,"strokeDash":[17,7]},
  "encoding":{"x":{"field":"i","type":"quantitative","scale":{"domain":[0.2,452.7],"nice":false,"zero":false},"axis":null},
   "y":{"field":"p","type":"quantitative"}}},
 {"data":{"name":"k"},"mark":{"type":"rule","strokeWidth":1},
  "encoding":{"x":{"field":"i","type":"quantitative","scale":{"domain":[0.2,452.7],"nice":false,"zero":false},"axis":null},
   "y":{"field":"l","type":"quantitative"},"y2":{"field":"h"},
   "color":{"condition":[{"test":"datum.c>datum.o","value":"#00b2f2"},{"test":"datum.c<datum.o","value":"#ff0000"}],"value":"#00ff00"}}},
 {"data":{"name":"k"},"mark":{"type":"bar","width":3},
  "encoding":{"x":{"field":"i","type":"quantitative","scale":{"domain":[0.2,452.7],"nice":false,"zero":false},"axis":null},
   "y":{"field":"o","type":"quantitative"},"y2":{"field":"c"},
   "color":{"condition":[{"test":"datum.c>datum.o","value":"#00b2f2"},{"test":"datum.c<datum.o","value":"#ff0000"}],"value":"#00ff00"}}},
 {"data":{"name":"k"},"mark":{"type":"tick","orient":"horizontal","size":3,"thickness":1},
  "encoding":{"x":{"field":"i","type":"quantitative","scale":{"domain":[0.2,452.7],"nice":false,"zero":false},"axis":null},
   "y":{"field":"c","type":"quantitative"},
   "color":{"condition":[{"test":"datum.c>datum.o","value":"#00b2f2"},{"test":"datum.c<datum.o","value":"#ff0000"}],"value":"#00ff00"}}},
 {"data":{"name":"sh"},"mark":{"type":"line","strokeWidth":3,"strokeCap":"round","strokeJoin":"miter"},
  "encoding":{"x":{"field":"i","type":"quantitative","scale":{"domain":[0.2,452.7],"nice":false,"zero":false},"axis":null},
   "y":{"field":"p","type":"quantitative"},"detail":{"field":"g"},"order":{"field":"o"},
   "color":{"condition":{"test":"datum.k=='w'","value":"#ffffff"},"value":"#f01e23"}}},
 {"data":{"name":"tx"},"mark":{"type":"text","font":"DejaVu Sans","fontWeight":"bold","fontSize":18,"align":"center","baseline":"middle"},
  "encoding":{"x":{"field":"i","type":"quantitative","scale":{"domain":[0.2,452.7],"nice":false,"zero":false},"axis":null},
   "y":{"field":"p","type":"quantitative"},"text":{"field":"t"},
   "color":{"condition":{"test":"datum.k=='b'","value":"#1e90ff"},"value":"#ffffff"}}},
 {"data":{"values":[{"i":272.0,"p":64.55,"t":"Crude Oil"},{"i":274.7,"p":63.9,"t":"H4 Chart"}]},
  "mark":{"type":"text","font":"DejaVu Sans","fontWeight":"bold","fontSize":23,"align":"center","baseline":"middle","color":"#ffffff"},
  "encoding":{"x":{"field":"i","type":"quantitative","scale":{"domain":[0.2,452.7],"nice":false,"zero":false},"axis":null},
   "y":{"field":"p","type":"quantitative"},"text":{"field":"t"}}},
 {"data":{"values":[{"i":0.2,"p":66.758,"t":"t,H4\u00a0\u00a059.36 59.55 59.22 59.48"}]},
  "mark":{"type":"text","font":"DejaVu Sans","fontSize":11.5,"align":"left","baseline":"middle","color":"#ffffff"},
  "encoding":{"x":{"field":"i","type":"quantitative","scale":{"domain":[0.2,452.7],"nice":false,"zero":false},"axis":null},
   "y":{"field":"p","type":"quantitative"},"text":{"field":"t"}}},
 {"data":{"name":"lv"},"mark":{"type":"tick","orient":"horizontal","size":42,"thickness":12,"color":"#ffffff","opacity":1},
  "encoding":{"x":{"datum":458.45,"type":"quantitative","axis":null},"y":{"field":"p","type":"quantitative"}}},
 {"data":{"name":"lv"},"mark":{"type":"text","font":"DejaVu Sans","fontSize":11,"align":"left","baseline":"middle","color":"#0b1f3b"},
  "encoding":{"x":{"datum":454.45,"type":"quantitative","axis":null},"y":{"field":"p","type":"quantitative"},"text":{"field":"p","type":"quantitative","format":".2f"}}},
 {"data":{"values":[{"i":358.95,"p":66.85}]},"mark":{"type":"point","shape":"triangle-down","filled":true,"color":"#8d939c","size":60,"opacity":1},
  "encoding":{"x":{"field":"i","type":"quantitative","scale":{"domain":[0.2,452.7],"nice":false,"zero":false},"axis":null},
   "y":{"field":"p","type":"quantitative"}}}
]},
{"layer":[
 {"data":{"name":"k"},"mark":{"type":"bar","width":3,"color":"#3cb371"},
  "encoding":{"x":{"field":"i","type":"quantitative","scale":{"domain":[0.2,452.7],"nice":false,"zero":false},"axis":null},
   "y":{"field":"m","type":"quantitative","scale":{"domain":[-1.5525,2.1005],"range":[797,757],"nice":false,"zero":false},
    "axis":{"orient":"right","title":null,"values":[1.187,0,-0.904],"labelExpr":"datum.value==0?'0.00':(datum.value<0?'-'+format(-datum.value,'.3f'):format(datum.value,'.3f'))"}},
   "y2":{"datum":0}}},
 {"data":{"name":"k"},"mark":{"type":"line","color":"#ff0000","strokeWidth":1.5},
  "encoding":{"x":{"field":"i","type":"quantitative","scale":{"domain":[0.2,452.7],"nice":false,"zero":false},"axis":null},
   "y":{"field":"s","type":"quantitative"}}},
 {"data":{"values":[{"m":2.1005},{"m":-1.5525}]},"mark":{"type":"rule","color":"#ffffff","strokeWidth":1},
  "encoding":{"y":{"field":"m","type":"quantitative"}}},
 {"data":{"values":[{"i":0.2,"m":1.0,"t":"2,26,9) -0.071 -0.139"}]},
  "mark":{"type":"text","font":"DejaVu Sans","fontSize":11,"align":"left","baseline":"middle","color":"#ffffff"},
  "encoding":{"x":{"field":"i","type":"quantitative","scale":{"domain":[0.2,452.7],"nice":false,"zero":false},"axis":null},
   "y":{"field":"m","type":"quantitative"},"text":{"field":"t"}}}
]},
{"layer":[
 {"data":{"values":[{"v":70},{"v":30}]},"mark":{"type":"rule","color":"#c8c8c8","strokeWidth":1,"strokeDash":[3,3]},
  "encoding":{"y":{"field":"v","type":"quantitative","scale":{"domain":[17.9,100],"range":[839,800],"nice":false,"zero":false},
   "axis":{"orient":"right","title":null,"values":[100,70,30],"format":"d",
    "labelBaseline":{"condition":{"test":"datum.value==100","value":"top"},"value":"middle"},
    "labelOffset":{"condition":{"test":"datum.value==100","value":2},"value":0}}}}},
 {"data":{"values":[{"v":100}]},"mark":{"type":"rule","color":"#ffffff","strokeWidth":1},
  "encoding":{"y":{"field":"v","type":"quantitative"}}},
 {"data":{"name":"k"},"mark":{"type":"line","color":"#1e90ff","strokeWidth":1},
  "encoding":{"x":{"field":"i","type":"quantitative","scale":{"domain":[0.2,452.7],"nice":false,"zero":false},"axis":null},
   "y":{"field":"r","type":"quantitative"}}},
 {"data":{"values":[{"i":0.2,"r":76.8,"t":"48.8649"}]},
  "mark":{"type":"text","font":"DejaVu Sans","fontSize":11,"align":"left","baseline":"middle","color":"#ffffff"},
  "encoding":{"x":{"field":"i","type":"quantitative","scale":{"domain":[0.2,452.7],"nice":false,"zero":false},"axis":null},
   "y":{"field":"r","type":"quantitative"},"text":{"field":"t"}}},
 {"data":{"values":[{"i":387.95,"r":51.6,"t":"54.90"}]},
  "mark":{"type":"text","font":"DejaVu Sans","fontWeight":"bold","fontSize":18,"align":"center","baseline":"middle","color":"#1e90ff"},
  "encoding":{"x":{"field":"i","type":"quantitative","scale":{"domain":[0.2,452.7],"nice":false,"zero":false},"axis":null},
   "y":{"field":"r","type":"quantitative"},"text":{"field":"t"}}}
]}
],
"resolve":{"scale":{"y":"independent"},"axis":{"y":"independent"}}
}
